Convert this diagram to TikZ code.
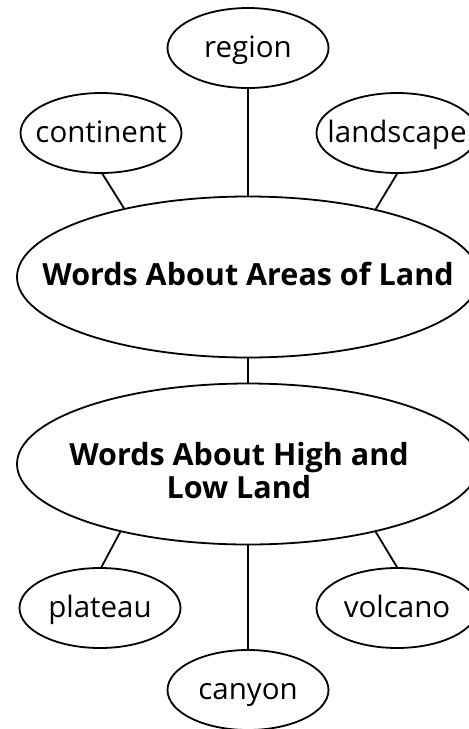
\documentclass[tikz,border=0pt]{standalone}
\usepackage{fontspec}
\setmainfont{Open Sans}
\usetikzlibrary{shapes.geometric}

\begin{document}
\begin{tikzpicture}
        [x=1pt, y=-1pt, line width=1.8pt,
        word/.style={ellipse, draw, inner sep=0pt, minimum width=161pt, minimum height=80pt},
        topic/.style={ellipse, draw, inner sep=0pt, minimum width=462pt, minimum height=161pt},
        wordtext/.style={font=\fontsize{29.5}{33}\selectfont, text height=18pt, text depth=0pt},
        topictext/.style={font=\bfseries\fontsize{30.5}{33}\selectfont, align=center, text height=16pt, text depth=0pt},
        link/.style={black, line width=1.8pt}]

        \clip (0,0) rectangle (469,729);

        % the two big topics
        \node[topic, label={[topictext]center:Words About Areas of Land}] (areas) at (248,277) {};
        \node[topic, label={[topictext, xshift=-9pt, yshift=-26pt]center:Words About High and\\Low Land}] (highlow) at (248,464) {};

        % words about areas of land
        \node[word, label={[wordtext]center:region}] (region) at (248,48) {};
        \node[word, label={[wordtext]center:continent}] (continent) at (101,133) {};
        \node[word, label={[wordtext]center:landscape}] (landscape) at (397,133) {};

        % words about high and low land
        \node[word, label={[wordtext]center:plateau}] (plateau) at (100,608) {};
        \node[word, label={[wordtext]center:canyon}] (canyon) at (248,690) {};
        \node[word, label={[wordtext]center:volcano}] (volcano) at (397,608) {};

        % links
        \draw[link] (region.south) -- (areas.north);
        \draw[link] (continent.-88) -- (areas.151);
        \draw[link] (landscape.south) -- (areas.28);
        \draw[link] (areas.south) -- (highlow.north);
        \draw[link] (highlow.208) -- (plateau.88);
        \draw[link] (highlow.south) -- (canyon.north);
        \draw[link] (highlow.-28) -- (volcano.north);

        \end{tikzpicture}
\end{document}
